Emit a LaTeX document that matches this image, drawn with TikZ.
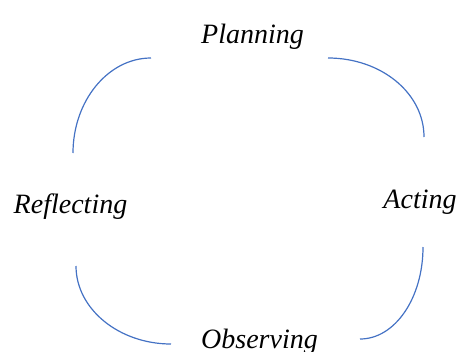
\documentclass[tikz,border=0pt]{standalone}
\usepackage{fontspec}
\setmainfont{Liberation Serif}
\usepackage{xcolor}
\usepackage{tikz}

\definecolor{cycleblue}{RGB}{68,114,196}

\begin{document}
\begin{tikzpicture}
            [x=1pt,y=-1pt,every node/.style={font=\fontsize{28}{32}\selectfont\itshape, inner sep=0pt, anchor=base},
             loopline/.style={draw=cycleblue, line width=1.2pt}]
            \useasboundingbox (0,0) rectangle (457,351);
            \node (plan) at (252.5,43) {Planning};
            \node (act) at (420,208) {Acting};
            \node (obs) at (259.5,348) {Observing};
            \node (refl) at (70.5,213) {Reflecting};

            % ends of the four quarter arcs
            \coordinate (tl1) at (151,58);
            \coordinate (tl2) at (73,153);
            \coordinate (tr1) at (328,58);
            \coordinate (tr2) at (424,137);
            \coordinate (br1) at (423,247);
            \coordinate (br2) at (360,339);
            \coordinate (bl1) at (76,266);
            \coordinate (bl2) at (171,344);

            \draw[loopline] (tl1) .. controls (108,58) and (73,101) .. (tl2);
            \draw[loopline] (tr1) .. controls (381,58) and (424,93) .. (tr2);
            \draw[loopline] (br1) .. controls (423,298) and (395,339) .. (br2);
            \draw[loopline] (bl1) .. controls (76,309) and (119,344) .. (bl2);
          \end{tikzpicture}
\end{document}
